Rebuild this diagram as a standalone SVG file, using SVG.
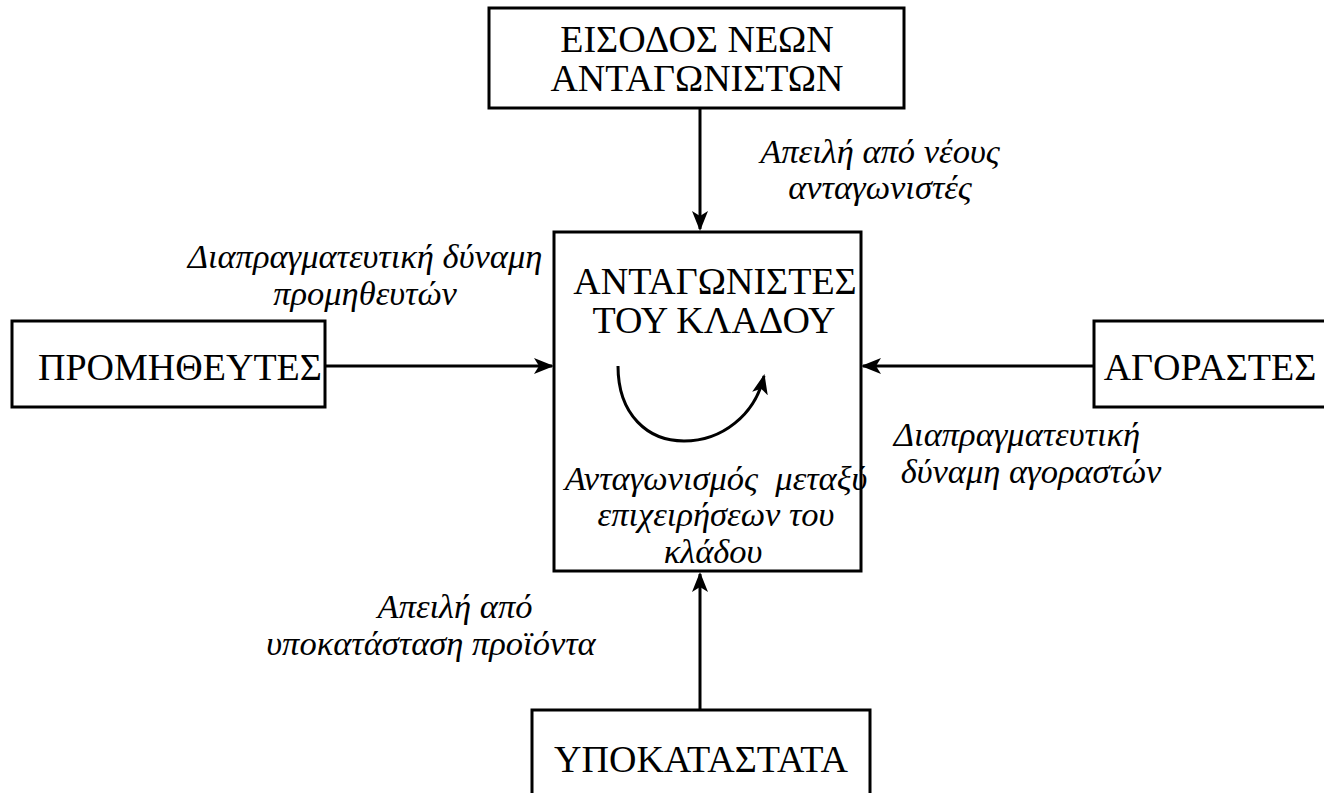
<svg xmlns="http://www.w3.org/2000/svg" width="1324" height="793" viewBox="0 0 1324 793">
<defs>
<marker id="ah" viewBox="0 0 20 16" refX="18" refY="8" markerWidth="20" markerHeight="16" markerUnits="userSpaceOnUse" orient="auto">
<path d="M0,0 L20,8 L0,16 L5,8 Z" fill="#000"/>
</marker>
</defs>
<rect width="1324" height="793" fill="#fff"/>
<g id="connectors" fill="none" stroke="#000" stroke-width="3">
<line x1="700" y1="108" x2="700" y2="229" marker-end="url(#ah)"/>
<line x1="325" y1="366" x2="552" y2="366" marker-end="url(#ah)"/>
<line x1="1094" y1="366" x2="863" y2="366" marker-end="url(#ah)"/>
<line x1="700" y1="710" x2="700" y2="574" marker-end="url(#ah)"/>
</g>
<g id="node-entrants">
<rect x="489" y="8" width="415" height="100" fill="#fff" stroke="#000" stroke-width="3"/>
<text x="697" y="52" style="font-family:'Liberation Serif',serif;font-size:38px" text-anchor="middle">ΕΙΣΟΔΟΣ ΝΕΩΝ</text>
<text x="697" y="91" style="font-family:'Liberation Serif',serif;font-size:38px" text-anchor="middle">ΑΝΤΑΓΩΝΙΣΤΩΝ</text>
</g>
<g id="node-rivals">
<rect x="554" y="232" width="307" height="339" fill="#fff" stroke="#000" stroke-width="3"/>
<text x="715" y="294" style="font-family:'Liberation Serif',serif;font-size:38px" text-anchor="middle">ΑΝΤΑΓΩΝΙΣΤΕΣ</text>
<text x="714" y="333" style="font-family:'Liberation Serif',serif;font-size:38px" text-anchor="middle">ΤΟΥ ΚΛΑΔΟΥ</text>
<path d="M618,366 C618,415 648,441 684,441 C722,441 755,415 764,376" fill="none" stroke="#000" stroke-width="3" marker-end="url(#ah)"/>
<text x="716" y="490" style="font-family:'Liberation Serif',serif;font-size:34.5px;font-style:italic;white-space:pre" text-anchor="middle">Ανταγωνισμός  μεταξύ</text>
<text x="716" y="526" style="font-family:'Liberation Serif',serif;font-size:34.5px;font-style:italic" text-anchor="middle">επιχειρήσεων του</text>
<text x="713" y="563" style="font-family:'Liberation Serif',serif;font-size:34.5px;font-style:italic" text-anchor="middle">κλάδου</text>
</g>
<g id="node-suppliers">
<rect x="12" y="321" width="313" height="86" fill="#fff" stroke="#000" stroke-width="3"/>
<text x="180" y="380" style="font-family:'Liberation Serif',serif;font-size:38px" text-anchor="middle">ΠΡΟΜΗΘΕΥΤΕΣ</text>
</g>
<g id="node-buyers">
<rect x="1094" y="321" width="240" height="86" fill="#fff" stroke="#000" stroke-width="3"/>
<text x="1210" y="380" style="font-family:'Liberation Serif',serif;font-size:38px" text-anchor="middle">ΑΓΟΡΑΣΤΕΣ</text>
</g>
<g id="node-substitutes">
<rect x="532" y="710" width="338" height="100" fill="#fff" stroke="#000" stroke-width="3"/>
<text x="701" y="772" style="font-family:'Liberation Serif',serif;font-size:38px" text-anchor="middle">ΥΠΟΚΑΤΑΣΤΑΤΑ</text>
</g>
<g id="labels">
<text x="880" y="163" style="font-family:'Liberation Serif',serif;font-size:34.5px;font-style:italic" text-anchor="middle">Απειλή από νέους</text>
<text x="880" y="199" style="font-family:'Liberation Serif',serif;font-size:34.5px;font-style:italic" text-anchor="middle">ανταγωνιστές</text>
<text x="365" y="268" style="font-family:'Liberation Serif',serif;font-size:34.5px;font-style:italic" text-anchor="middle">Διαπραγματευτική δύναμη</text>
<text x="365" y="305" style="font-family:'Liberation Serif',serif;font-size:34.5px;font-style:italic" text-anchor="middle">προμηθευτών</text>
<text x="1017" y="446" style="font-family:'Liberation Serif',serif;font-size:34.5px;font-style:italic" text-anchor="middle">Διαπραγματευτική</text>
<text x="1031" y="483" style="font-family:'Liberation Serif',serif;font-size:34.5px;font-style:italic" text-anchor="middle">δύναμη αγοραστών</text>
<text x="455" y="618" style="font-family:'Liberation Serif',serif;font-size:34.5px;font-style:italic" text-anchor="middle">Απειλή από</text>
<text x="431" y="655" style="font-family:'Liberation Serif',serif;font-size:34.5px;font-style:italic" text-anchor="middle">υποκατάσταση προϊόντα</text>
</g>
</svg>
